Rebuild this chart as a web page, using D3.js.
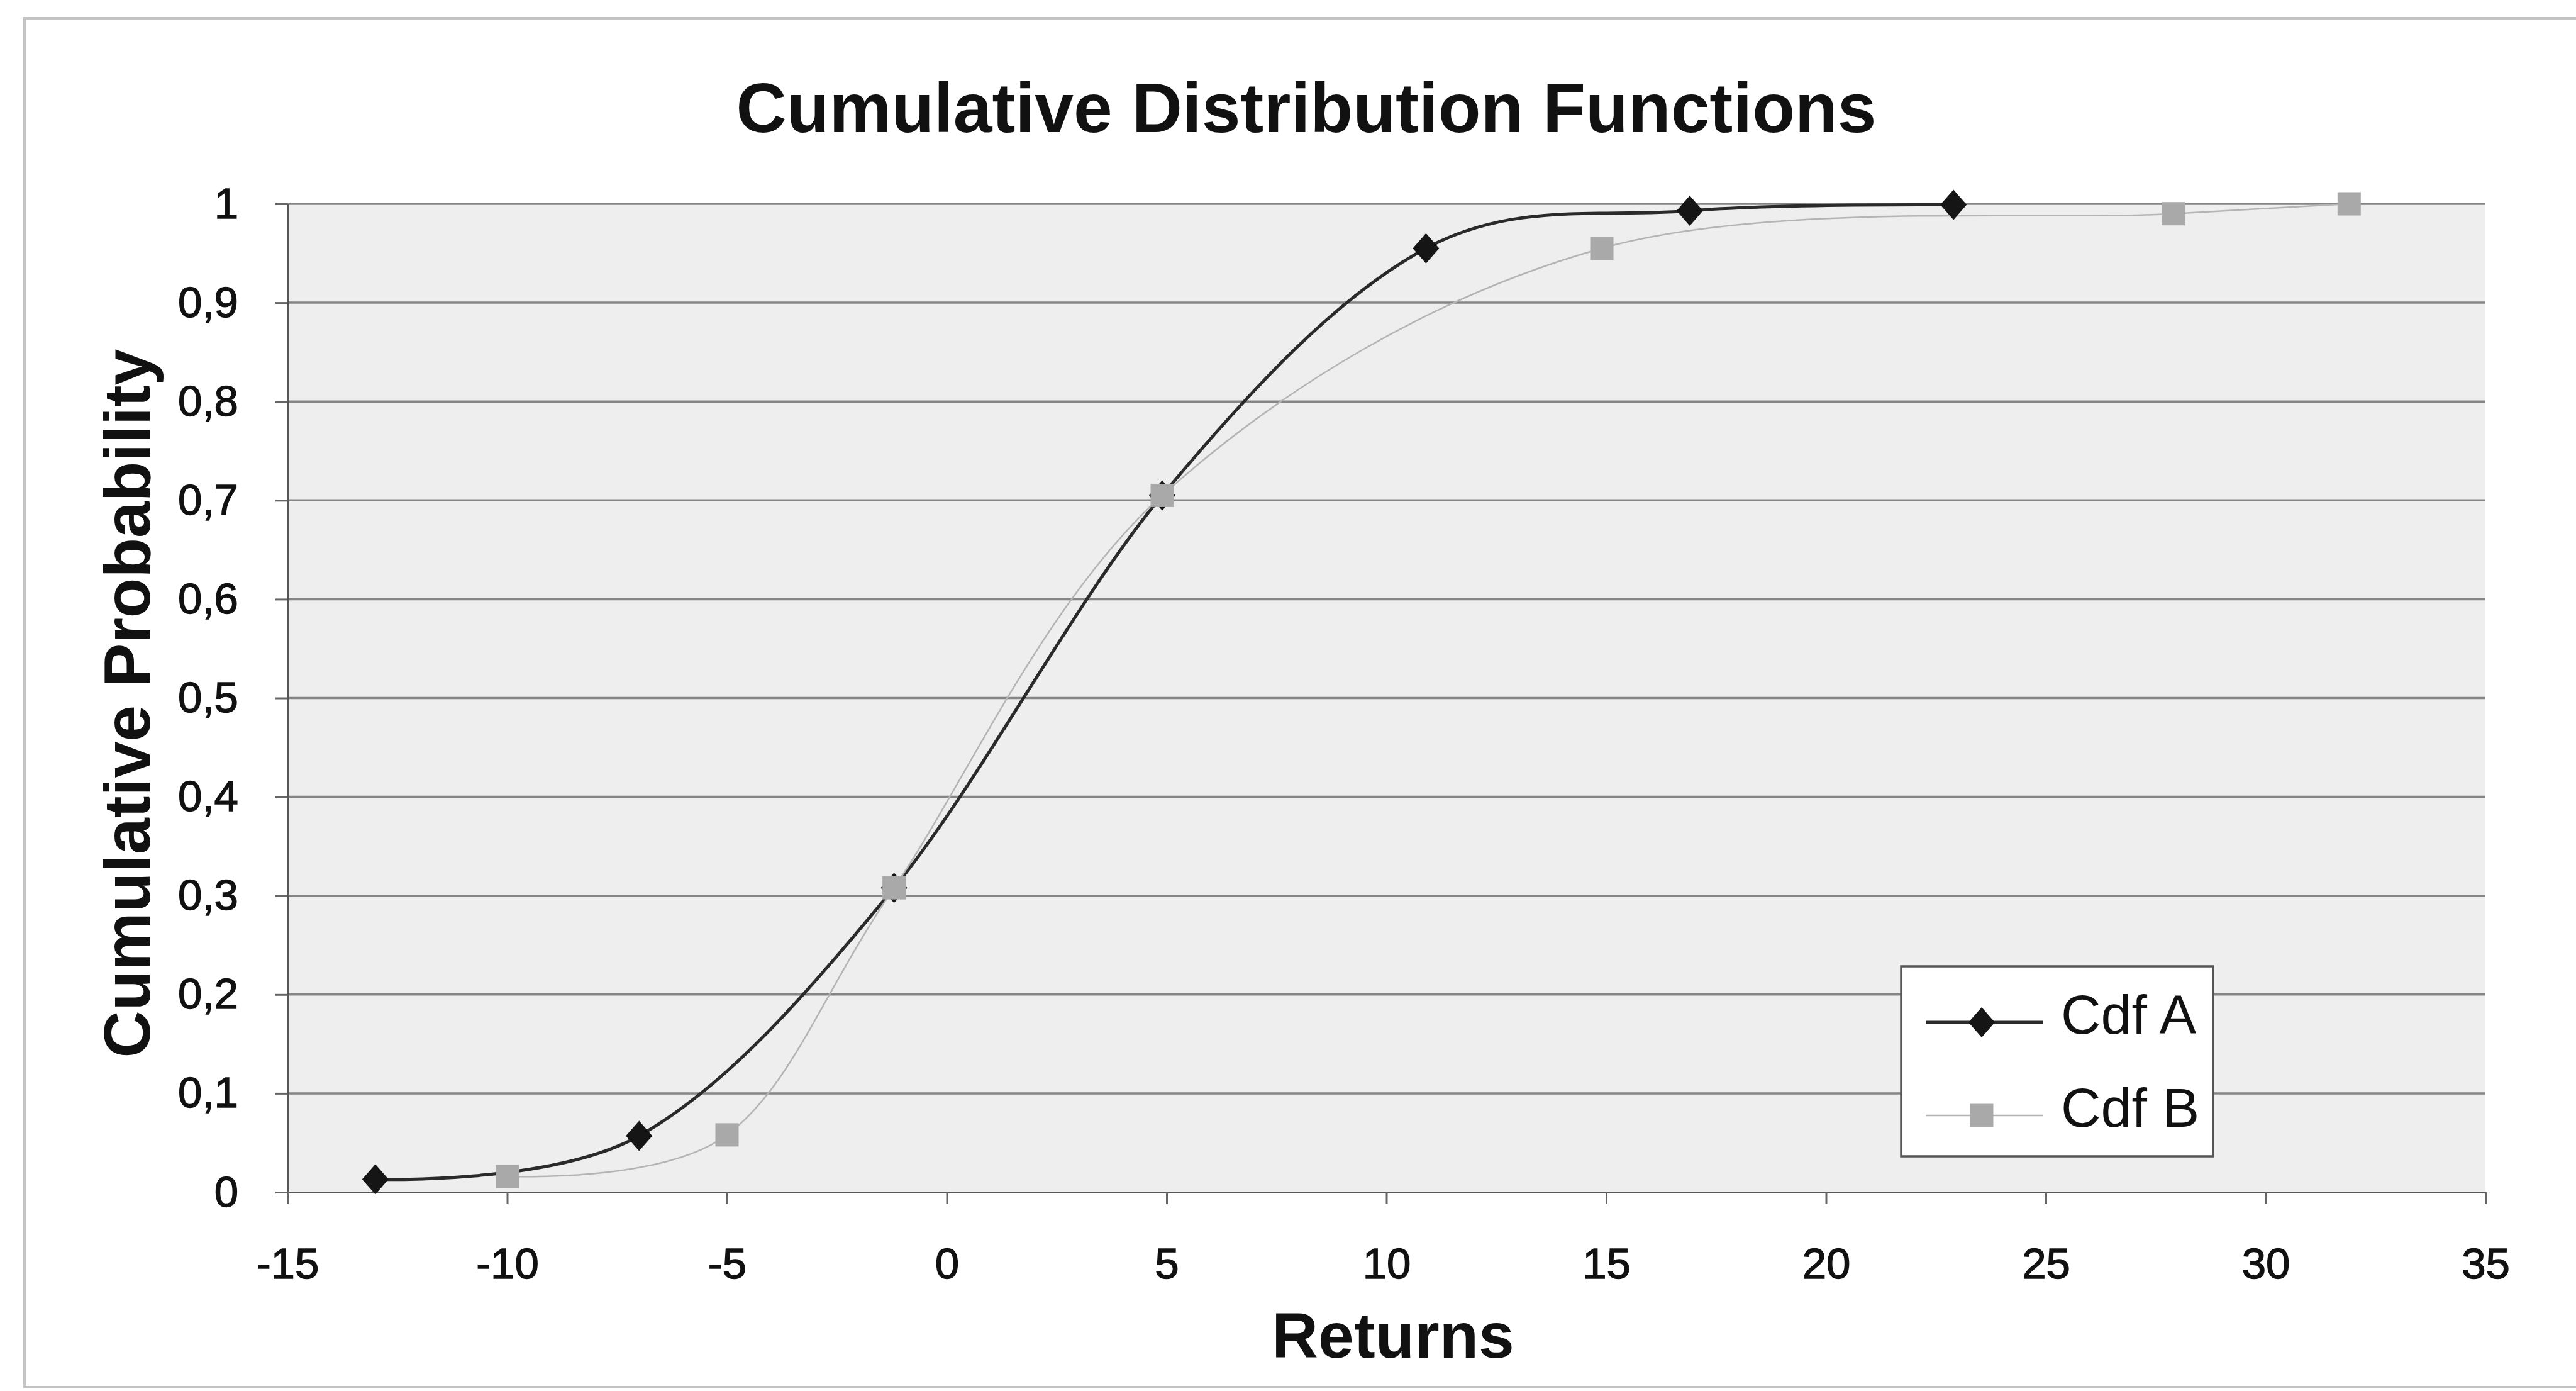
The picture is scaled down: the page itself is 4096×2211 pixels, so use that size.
<!DOCTYPE html>
<html>
<head>
<meta charset="utf-8">
<script src="https://cdn.jsdelivr.net/npm/d3@7"></script>
<style>
  html, body { margin: 0; padding: 0; background: #fff; }
  svg { display: block; }
</style>
</head>
<body>
<svg id="chart" width="4096" height="2211"></svg>
<script>
const seriesNames = ['Cdf A', 'Cdf B']
const cdfAReturns = [-13, -7, -1.2, 4.9, 10.9, 16.9, 22.9]
const cdfAProb = [0.013, 0.057, 0.308, 0.705, 0.955, 0.993, 0.999]
const cdfBReturns = [-10, -5, -1.2, 4.9, 14.9, 27.9, 31.9]
const cdfBProb = [0.016, 0.058, 0.308, 0.705, 0.955, 0.99, 1.0]
const xTicks = [-15, -10, -5, 0, 5, 10, 15, 20, 25, 30, 35]
const yTicks = [0, 0.1, 0.2, 0.3, 0.4, 0.5, 0.6, 0.7, 0.8, 0.9, 1]
const yTickLabels = ['0', '0,1', '0,2', '0,3', '0,4', '0,5', '0,6', '0,7', '0,8', '0,9', '1']

const font = "'Liberation Sans', Arial, sans-serif"
const textColor = '#111'

const svg = d3.select('#chart')

const x = d3.scaleLinear().domain([-15, 35]).range([457, 3952])
const y = d3.scaleLinear().domain([0, 1]).range([1895, 324])

// chart area border
svg.append('rect')
    .attr('x', 39).attr('y', 29)
    .attr('width', 4200).attr('height', 2176)
    .attr('fill', 'none')
    .attr('stroke', '#c4c4c4')
    .attr('stroke-width', 4)

// plot area
svg.append('rect')
    .attr('x', x(-15)).attr('y', y(1))
    .attr('width', x(35) - x(-15)).attr('height', y(0) - y(1))
    .attr('fill', '#eeeeee')

svg.append('g')
    .selectAll('line')
    .data(yTicks.filter(d => d > 0))
    .join('line')
    .attr('x1', x(-15)).attr('x2', x(35))
    .attr('y1', d => y(d)).attr('y2', d => y(d))
    .attr('stroke', '#858585')
    .attr('stroke-width', 3.5)

// axes
const yAxis = svg.append('g')
    .attr('transform', `translate(${x(-15)},0)`)
    .call(d3.axisLeft(y)
        .tickValues(yTicks)
        .tickFormat((d, i) => yTickLabels[i])
        .tickSize(19)
        .tickSizeOuter(0)
        .tickPadding(59))

const xAxis = svg.append('g')
    .attr('transform', `translate(0,${y(0)})`)
    .call(d3.axisBottom(x)
        .tickValues(xTicks)
        .tickFormat(d => d)
        .tickSize(19)
        .tickSizeOuter(0)
        .tickPadding(69))

for (const g of [yAxis, xAxis]) {
    g.attr('font-family', font).attr('font-size', 69)
    g.select('.domain').attr('stroke', '#555').attr('stroke-width', 3)
    g.selectAll('.tick line').attr('stroke', '#666').attr('stroke-width', 3)
    // scanned labels read a little heavier than plain regular weight
    g.selectAll('.tick text')
        .attr('fill', textColor)
        .attr('stroke', textColor)
        .attr('stroke-width', 1.4)
}

// series
const pointsA = cdfAReturns.map((v, i) => [v, cdfAProb[i]])
const pointsB = cdfBReturns.map((v, i) => [v, cdfBProb[i]])

const line = d3.line()
    .x(d => x(d[0]))
    .y(d => y(d[1]))
    .curve(d3.curveCardinal.tension(0))

svg.append('path')
    .datum(pointsA)
    .attr('d', line)
    .attr('fill', 'none')
    .attr('stroke', '#2a2a2a')
    .attr('stroke-width', 5)

svg.append('path')
    .datum(pointsB)
    .attr('d', line)
    .attr('fill', 'none')
    .attr('stroke', '#b4b4b4')
    .attr('stroke-width', 2.5)

const diamond = (rx, ry) => `M0,${-ry}L${rx},0L0,${ry}L${-rx},0Z`
const square = 37

svg.append('g')
    .selectAll('path')
    .data(pointsA)
    .join('path')
    .attr('transform', d => `translate(${x(d[0])},${y(d[1])})`)
    .attr('d', diamond(21, 24))
    .attr('fill', '#151515')

svg.append('g')
    .selectAll('rect')
    .data(pointsB)
    .join('rect')
    .attr('x', d => x(d[0]) - square / 2)
    .attr('y', d => y(d[1]) - square / 2)
    .attr('width', square).attr('height', square)
    .attr('fill', '#a9a9a9')

// titles
svg.append('text')
    .attr('x', 2077).attr('y', 210)
    .attr('text-anchor', 'middle')
    .attr('font-family', font).attr('font-weight', 'bold').attr('font-size', 111)
    .attr('fill', textColor)
    .text('Cumulative Distribution Functions')

svg.append('text')
    .attr('transform', 'translate(238,1118) rotate(-90)')
    .attr('text-anchor', 'middle')
    .attr('font-family', font).attr('font-weight', 'bold').attr('font-size', 104)
    .attr('fill', textColor)
    .text('Cumulative Probability')

svg.append('text')
    .attr('x', 2215).attr('y', 2158)
    .attr('text-anchor', 'middle')
    .attr('font-family', font).attr('font-weight', 'bold').attr('font-size', 102)
    .attr('fill', textColor)
    .text('Returns')

// legend
const legend = svg.append('g')
legend.append('rect')
    .attr('x', 3023).attr('y', 1536)
    .attr('width', 496).attr('height', 302)
    .attr('fill', '#fff')
    .attr('stroke', '#555')
    .attr('stroke-width', 3.5)

const legendRows = [
    { name: seriesNames[0], y: 1625, stroke: '#2a2a2a', width: 5 },
    { name: seriesNames[1], y: 1773, stroke: '#b4b4b4', width: 2.5 }
]

const rows = legend.selectAll('g.row')
    .data(legendRows)
    .join('g')
    .attr('class', 'row')

rows.append('line')
    .attr('x1', 3062).attr('x2', 3248)
    .attr('y1', d => d.y).attr('y2', d => d.y)
    .attr('stroke', d => d.stroke)
    .attr('stroke-width', d => d.width)

rows.filter((d, i) => i === 0).append('path')
    .attr('transform', d => `translate(3151,${d.y})`)
    .attr('d', diamond(21, 24))
    .attr('fill', '#151515')

rows.filter((d, i) => i === 1).append('rect')
    .attr('x', 3151 - square / 2)
    .attr('y', d => d.y - square / 2)
    .attr('width', square).attr('height', square)
    .attr('fill', '#a9a9a9')

rows.append('text')
    .attr('x', 3277)
    .attr('y', d => d.y + 18)
    .attr('font-family', font).attr('font-size', 88)
    .attr('fill', textColor)
    .text(d => d.name)
</script>
</body>
</html>
